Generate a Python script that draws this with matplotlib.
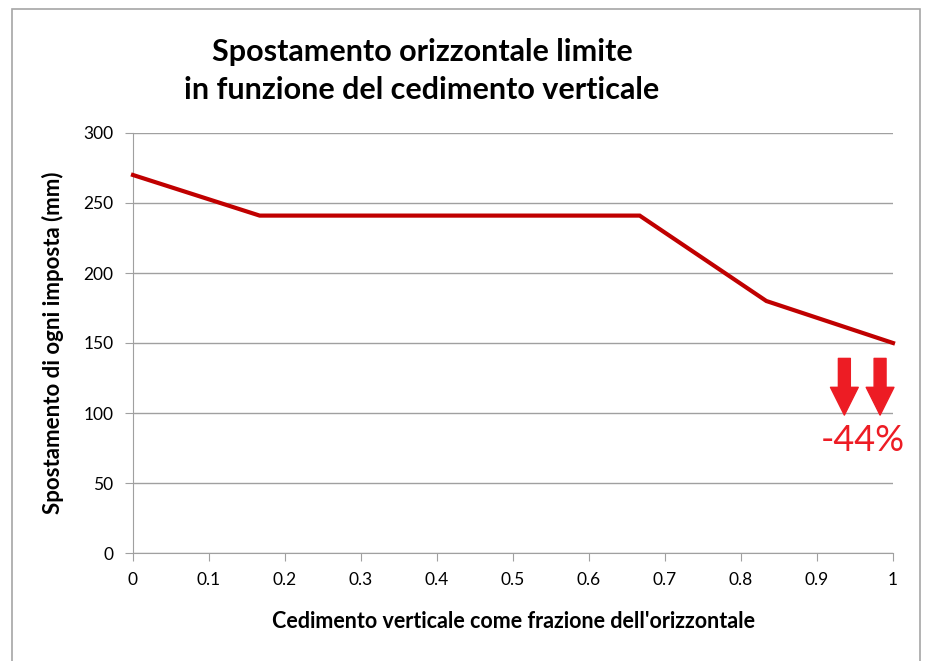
import matplotlib
matplotlib.use("Agg")
import matplotlib.pyplot as plt
from matplotlib.patches import Rectangle

# settlement as fraction of horizontal span vs limit horizontal displacement
cedimento = [0.0, 1 / 6, 2 / 3, 5 / 6, 1.0]
spostamento = [270, 241, 241, 180, 150]
x_ticks = [0, 0.1, 0.2, 0.3, 0.4, 0.5, 0.6, 0.7, 0.8, 0.9, 1]
y_ticks = [0, 50, 100, 150, 200, 250, 300]
arrow_x = [0.936, 0.983]

plt.rcParams["font.family"] = ["Lato", "DejaVu Sans"]

fig = plt.figure(figsize=(9.32, 6.61), dpi=100)
fig.patches.append(Rectangle((12 / 932, -0.05), 908 / 932, 1.05 - 9 / 661,
                             transform=fig.transFigure, fill=False,
                             edgecolor="#a6a6a6", linewidth=1.2))

ax = fig.add_axes([133 / 932, 1 - 553 / 661, 760 / 932, 420 / 661])
ax.plot(cedimento, spostamento, color="#c00000", linewidth=3, solid_joinstyle="miter",
        clip_on=False, zorder=3)

ax.set_xlim(0, 1)
ax.set_ylim(0, 300)
ax.set_xticks(x_ticks)
ax.set_xticklabels([f"{v:g}" for v in x_ticks])
ax.set_yticks(y_ticks)
ax.grid(axis="y", color="#a0a0a0", linewidth=1)
ax.set_axisbelow(True)
for side in ("top", "right"):
    ax.spines[side].set_visible(False)
for side in ("left", "bottom"):
    ax.spines[side].set_color("#a0a0a0")
ax.tick_params(direction="out", length=6, color="#a0a0a0", labelsize=12.5, pad=8)

ax.set_xlabel("Cedimento verticale come frazione dell'orizzontale",
              fontsize=15.5, fontweight="bold", labelpad=16)
ax.set_ylabel("Spostamento di ogni imposta (mm)", fontsize=16,
              fontweight="bold", labelpad=14)

fig.text(422 / 932, 1 - 71 / 661,
         "Spostamento orizzontale limite\nin funzione del cedimento verticale",
         ha="center", va="center", fontsize=22, fontweight="bold", linespacing=1.42)

# reduction arrows at the end of the curve
for xa in arrow_x:
    ax.annotate("", xy=(xa, 98.5), xytext=(xa, 139),
                arrowprops=dict(arrowstyle="simple,head_length=1.0,head_width=1.0,tail_width=0.43",
                                mutation_scale=20, color="#ed1c24",
                                shrinkA=0, shrinkB=0))

riduzione = (spostamento[-1] / spostamento[0] - 1) * 100
ax.text(0.96, 80, f"{riduzione:.0f}%", color="#ed1c24", fontsize=26,
        ha="center", va="center")

fig.savefig("out.png", dpi=100)
